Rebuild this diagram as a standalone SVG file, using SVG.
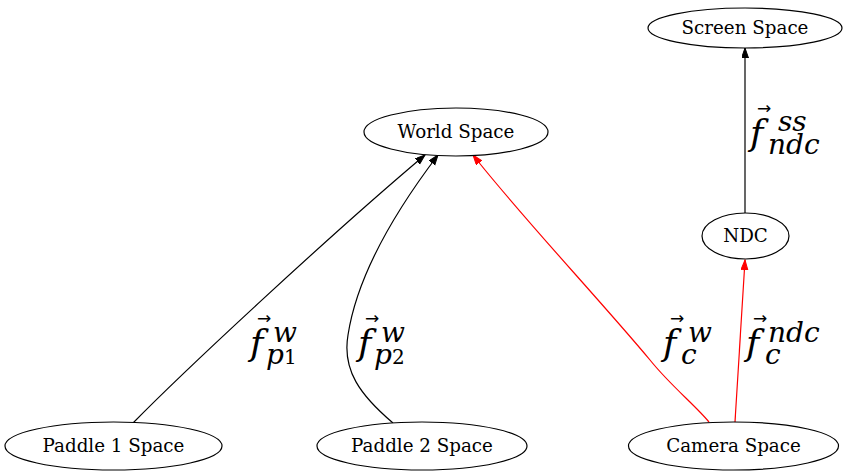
<svg xmlns="http://www.w3.org/2000/svg" width="849" height="476" viewBox="0 0 849 476">
<defs>
<style>
.node ellipse{fill:#fff;stroke:#000;stroke-width:1.2}
.node text{font-family:"DejaVu Serif","Liberation Serif",serif;font-size:18.3px;text-anchor:middle;fill:#000}
.edge{fill:none;stroke-width:1.2}
.blk{stroke:#000}
.red{stroke:#f00}
.m{font-family:"DejaVu Serif","Liberation Serif",serif;font-style:italic;fill:#000}
.f{font-size:36px}
.s{font-size:28px}
.n{font-size:20px;font-style:normal}
.v{font-family:"DejaVu Sans",sans-serif;font-style:normal;font-size:17px}
</style>
<marker id="ab" markerUnits="userSpaceOnUse" markerWidth="11" markerHeight="8" refX="10" refY="3.5" orient="auto"><path d="M0,0 L10,3.5 L0,7 z" fill="#000" stroke="#000"/></marker>
<marker id="ar" markerUnits="userSpaceOnUse" markerWidth="11" markerHeight="8" refX="10" refY="3.5" orient="auto"><path d="M0,0 L10,3.5 L0,7 z" fill="#f00" stroke="#f00"/></marker>
</defs>
<rect width="849" height="476" fill="#fff"/>
<g id="edges">
<path class="edge blk" d="M133,423 C185,370 330,235 425,155" marker-end="url(#ab)"/>
<path class="edge blk" d="M393,423 C360,395 342,370 348,335 C358,270 400,205 438,155" marker-end="url(#ab)"/>
<path class="edge red" d="M709,422 C695,405 670,385 650,360 C600,300 520,215 473,155" marker-end="url(#ar)"/>
<path class="edge red" d="M735,422 L745,260" marker-end="url(#ar)"/>
<path class="edge blk" d="M745,213 L745,48" marker-end="url(#ab)"/>
</g>
<g id="labels">
<text id="l1" class="m"><tspan class="f" x="250" y="355">f</tspan><tspan class="v" x="257" y="324">→</tspan><tspan class="s" x="273" y="342">w</tspan><tspan class="s" x="266" y="364">p</tspan><tspan class="n">1</tspan></text>
<text id="l2" class="m"><tspan class="f" x="358" y="355">f</tspan><tspan class="v" x="365" y="324">→</tspan><tspan class="s" x="381" y="342">w</tspan><tspan class="s" x="374" y="364">p</tspan><tspan class="n">2</tspan></text>
<text id="l3" class="m"><tspan class="f" x="663" y="355">f</tspan><tspan class="v" x="670" y="324">→</tspan><tspan class="s" x="688" y="342">w</tspan><tspan class="s" x="681" y="364">c</tspan></text>
<text id="l4" class="m"><tspan class="f" x="746" y="355">f</tspan><tspan class="v" x="753" y="324">→</tspan><tspan class="s" x="768" y="342">ndc</tspan><tspan class="s" x="765" y="364">c</tspan></text>
<text id="l5" class="m"><tspan class="f" x="750" y="145">f</tspan><tspan class="v" x="757" y="114">→</tspan><tspan class="s" x="778" y="131">ss</tspan><tspan class="s" x="768" y="154">ndc</tspan></text>
</g>
<g id="screen" class="node"><ellipse cx="745" cy="28" rx="97" ry="20"/><text x="745" y="34">Screen Space</text></g>
<g id="world" class="node"><ellipse cx="456" cy="132" rx="92" ry="24"/><text x="456" y="138">World Space</text></g>
<g id="ndc" class="node"><ellipse cx="745.5" cy="236" rx="43.5" ry="23"/><text x="745.5" y="242">NDC</text></g>
<g id="paddle1" class="node"><ellipse cx="113.5" cy="446" rx="108.5" ry="24"/><text x="113.5" y="452">Paddle 1 Space</text></g>
<g id="paddle2" class="node"><ellipse cx="422" cy="446" rx="105" ry="24"/><text x="422" y="452">Paddle 2 Space</text></g>
<g id="camera" class="node"><ellipse cx="733.5" cy="446" rx="105" ry="24"/><text x="733.5" y="452">Camera Space</text></g>
</svg>
